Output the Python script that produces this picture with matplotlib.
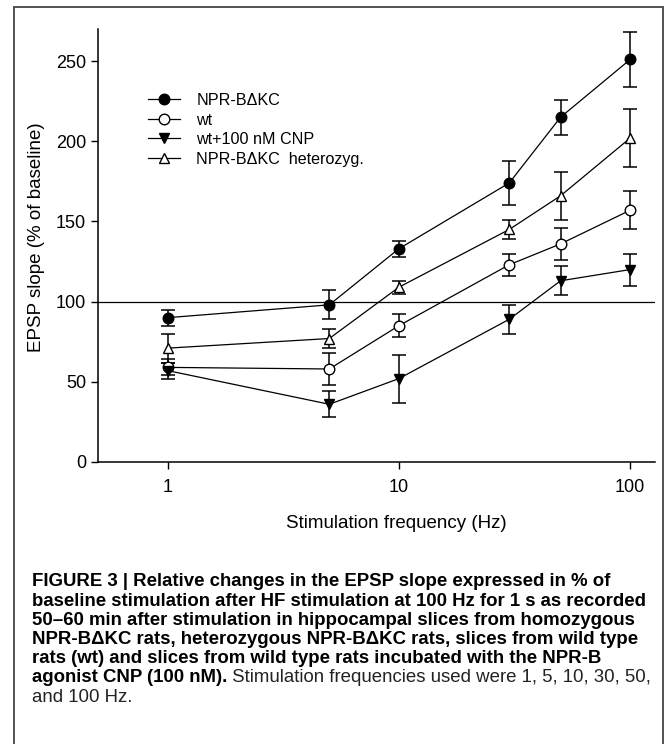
import matplotlib
matplotlib.use("Agg")
import matplotlib.pyplot as plt
from matplotlib.patches import Rectangle
from matplotlib import font_manager

# ---------- данные ----------
freqs = [1, 5, 10, 30, 50, 100]

npr_mean = [90, 98, 133, 174, 215, 251]
npr_err = [5, 9, 5, 14, 11, 17]

wt_mean = [59, 58, 85, 123, 136, 157]
wt_err = [5, 10, 7, 7, 10, 12]

cnp_mean = [57, 36, 52, 89, 113, 120]
cnp_err = [5, 8, 15, 9, 9, 10]

het_mean = [71, 77, 109, 145, 166, 202]
het_err = [9, 6, 4, 6, 15, 18]

labels = ["NPR-B\u0394KC", "wt", "wt+100 nM CNP", "NPR-B\u0394KC  heterozyg."]
xticks = [1, 10, 100]
yticks = [0, 50, 100, 150, 200, 250]

caption_bold = [
    "FIGURE 3 | Relative changes in the EPSP slope expressed in % of",
    "baseline stimulation after HF stimulation at 100 Hz for 1 s as recorded",
    "50\u201360 min after stimulation in hippocampal slices from homozygous",
    "NPR-B\u0394KC rats, heterozygous NPR-B\u0394KC rats, slices from wild type",
    "rats (wt) and slices from wild type rats incubated with the NPR-B",
    "agonist CNP (100 nM).",
]
caption_tail = " Stimulation frequencies used were 1, 5, 10, 30, 50,"
caption_last = "and 100 Hz."

# ---------- шрифты ----------
installed = {f.name for f in font_manager.fontManager.ttflist}
narrow = "Liberation Sans Narrow" if "Liberation Sans Narrow" in installed else "Liberation Sans"
plt.rcParams["font.family"] = ["Liberation Sans", "DejaVu Sans"]

W, H = 669, 744
fig = plt.figure(figsize=(W / 100, H / 100), dpi=100)

# рамка вокруг всей фигуры
fig.patches.append(Rectangle((14 / W, -0.02), (663 - 14) / W, 1 - 7 / H + 0.02,
                             transform=fig.transFigure, fill=False,
                             edgecolor="#444444", linewidth=1.3))

ax = fig.add_axes([98 / W, 1 - 462 / H, (655 - 98) / W, (462 - 29) / H])

series = [
    (npr_mean, npr_err, "o", "black"),
    (wt_mean, wt_err, "o", "white"),
    (cnp_mean, cnp_err, "v", "black"),
    (het_mean, het_err, "^", "white"),
]

ax.axhline(100, color="black", linewidth=0.9, zorder=1)

for (mean, err, mk, fc), lab in zip(series, labels):
    ax.errorbar(freqs, mean, yerr=err, fmt="none", ecolor="black",
                elinewidth=1.1, capsize=5, capthick=1.1, zorder=2)
    ax.plot(freqs, mean, color="black", linewidth=0.9, marker=mk,
            markersize=7.6, markerfacecolor=fc, markeredgecolor="black",
            markeredgewidth=1.0, label=lab, zorder=3)

ax.set_xscale("log")
ax.set_xlim(0.5, 128)
ax.set_ylim(0, 270)
ax.set_xticks(xticks)
ax.set_xticklabels([str(v) for v in xticks])
ax.minorticks_off()
ax.set_yticks(yticks)
ax.tick_params(axis="both", labelsize=13, length=5, width=1, direction="out")
ax.tick_params(axis="x", pad=7)

for s in ["top", "right"]:
    ax.spines[s].set_visible(False)
for s in ["left", "bottom"]:
    ax.spines[s].set_linewidth(1.1)

fig.text(396 / W, 1 - 523 / H, "Stimulation frequency (Hz)", fontsize=13.5,
         ha="center", va="center")
fig.text(37 / W, 1 - 237 / H, "EPSP slope (% of baseline)", fontsize=13.5,
         ha="center", va="center", rotation=90)

ax.legend(loc="upper left", bbox_to_anchor=(148 / W, 1 - 93 / H),
          bbox_transform=fig.transFigure, frameon=False, fontsize=11.6,
          handlelength=2.0, handletextpad=1.0, labelspacing=0.28,
          borderpad=0, borderaxespad=0)

# ---------- подпись ----------
y0, dy = 582, 19.2
last = None
for i, line in enumerate(caption_bold):
    last = fig.text(32 / W, 1 - (y0 + i * dy) / H, line, fontsize=13.4,
                    family=narrow, fontweight="bold", ha="left", va="center")
ax.annotate(caption_tail, xy=(1, 0.5), xycoords=last, va="center", ha="left",
            fontsize=13.4, family=narrow, color="#222222")
fig.text(32 / W, 1 - (y0 + 6 * dy) / H, caption_last, fontsize=13.4,
         family=narrow, color="#222222", ha="left", va="center")

fig.savefig("out.png", dpi=100)
